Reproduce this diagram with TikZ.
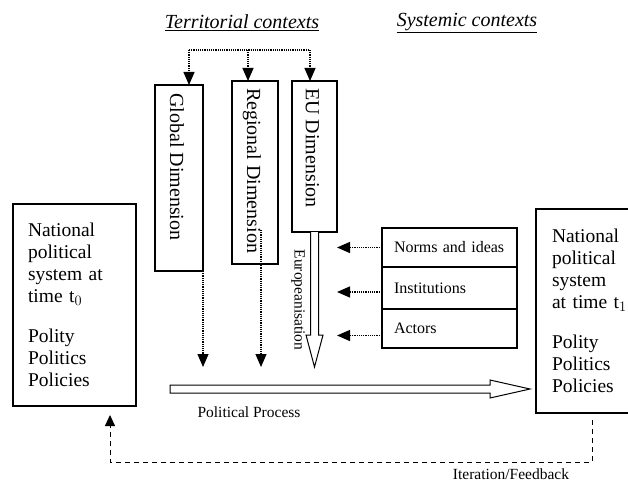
\documentclass[tikz,border=0pt]{standalone}
\usepackage{fontspec}
\setmainfont{Liberation Serif}
\usetikzlibrary{arrows.meta,calc}
\begin{document}
\begin{tikzpicture}[x=1pt,y=-1pt,
  big/.style={font=\fontsize{19.5}{22}\selectfont},
  rot/.style={font=\fontsize{20}{24}\selectfont, rotate=-90, anchor=west, inner sep=0pt},
  small/.style={font=\fontsize{15.5}{18}\selectfont},
  head/.style={font=\fontsize{20}{24}\selectfont\itshape},
  boxline/.style={draw, line width=1.1pt, outer sep=0pt},
  dimbox/.style={boxline, anchor=north west, inner sep=0pt},
  natbox/.style={boxline, big, anchor=north west, align=left, inner xsep=15pt, text width=93pt, minimum height=202pt},
  ctxbox/.style={boxline, font=\fontsize{16}{19}\selectfont, anchor=north west, align=left, inner xsep=12pt, text width=111pt},
  dotline/.style={line width=1.2pt, densely dotted},
  dotarrow/.style={dotline, -{Triangle[width=11pt,length=13pt]}},
  hollow/.style={line width=1pt, fill=white, line join=miter},
  fbarrow/.style={line width=1pt, dash pattern=on 5pt off 4pt, -{Triangle[width=10pt,length=11pt]}}
]
\clip (0,0) rectangle (628,484);
\fill[white] (0,0) rectangle (628,484);

% headings
\node[head] (terr) at (242,23) {\underline{Territorial contexts}};
\node[head] (syst) at (467,23) {\underline{Systemic contexts}};

% dimension boxes
\node[dimbox, minimum width=48pt, minimum height=186pt] (glob) at (155,85) {};
\node[dimbox, minimum width=46pt, minimum height=183pt] (reg) at (232,81) {};
\node[dimbox, minimum width=45pt, minimum height=151pt] (eu) at (292,81) {};
\node[rot] (globt) at ($(glob.north)+(-2,8)$) {Global Dimension};
\node[rot] (regt) at ($(reg.north)+(-3,7)$) {Regional Dimension};
\node[rot] (eut) at ($(eu.north)+(-2,7)$) {EU Dimension};

% top dotted distribution
\coordinate (tl) at (189,50);
\coordinate (tm) at (248,50);
\coordinate (tr) at (310,50);
\draw[dotline] (tl) -- (tr);
\draw[dotarrow] (tl) -- (tl |- glob.north);
\draw[dotarrow] (tm) -- (tm |- reg.north);
\draw[dotarrow] (tr) -- (tr |- eu.north);

% national systems
\node[natbox] (lbox) at (13,204) {National\\political\\system at\\time t$_0$\\[18pt]Polity\\Politics\\Policies};
\node[natbox, inner xsep=16pt, text width=100pt, minimum height=204pt] (rbox) at (536,209) {National\\political\\system\\at time t$_1$\\[18pt]Polity\\Politics\\Policies};

% downward dotted influences
\coordinate (lvl) at (0,367);
\coordinate (rs) at ($(reg.south)+(6,-34)$);
\draw[dotarrow] (glob.south east) -- (glob.south east |- lvl);
\draw[dotarrow] (rs) -- (rs |- lvl);

% Europeanisation arrow
\draw[hollow] ($(eu.south)+(-4,0)$) -- ($(eu.south)+(-4,103)$) -- ($(eu.south)+(-8.5,103)$)
  -- ($(eu.south)+(0,135)$) -- ($(eu.south)+(8.5,103)$) -- ($(eu.south)+(4,103)$) -- ($(eu.south)+(4,0)$);
\node[small, rotate=-90] (europ) at (298,300) {Europeanisation};

% systemic contexts
\node[ctxbox, minimum width=135pt, minimum height=39pt] (norms) at (382,228) {Norms and ideas};
\node[ctxbox, minimum width=135pt, minimum height=42pt] (inst) at (norms.south west) {Institutions};
\node[ctxbox, minimum width=135pt, minimum height=39pt] (act) at (inst.south west) {Actors};
\draw[dotarrow] (norms.west) -- ++(-45,0);
\draw[dotarrow] ($(inst.west)+(0,4)$) -- ++(-45,0);
\draw[dotarrow] ($(act.west)+(0,7)$) -- ++(-45,0);

% political process arrow
\coordinate (ps) at ($(lbox.east |- 0,389)+(34,0)$);
\coordinate (pe) at ($(rbox.west |- 0,389)+(-6,0)$);
\draw[hollow] ($(ps)+(0,-4)$) -- ($(pe)+(-40,-4)$) -- ($(pe)+(-40,-9)$) -- (pe)
  -- ($(pe)+(-40,9)$) -- ($(pe)+(-40,4)$) -- ($(ps)+(0,4)$) -- cycle;
\node[small] (pp) at (249,412) {Political Process};

% feedback
\coordinate (fs) at ($(rbox.south west)+(56,7)$);
\coordinate (fe) at ($(lbox.south west)+(97,9)$);
\draw[fbarrow] (fs) -- (fs |- 0,462) -| (fe);
\node[small, inner sep=0pt] (fb) at (511,474) {Iteration/Feedback};
\end{tikzpicture}
\end{document}
